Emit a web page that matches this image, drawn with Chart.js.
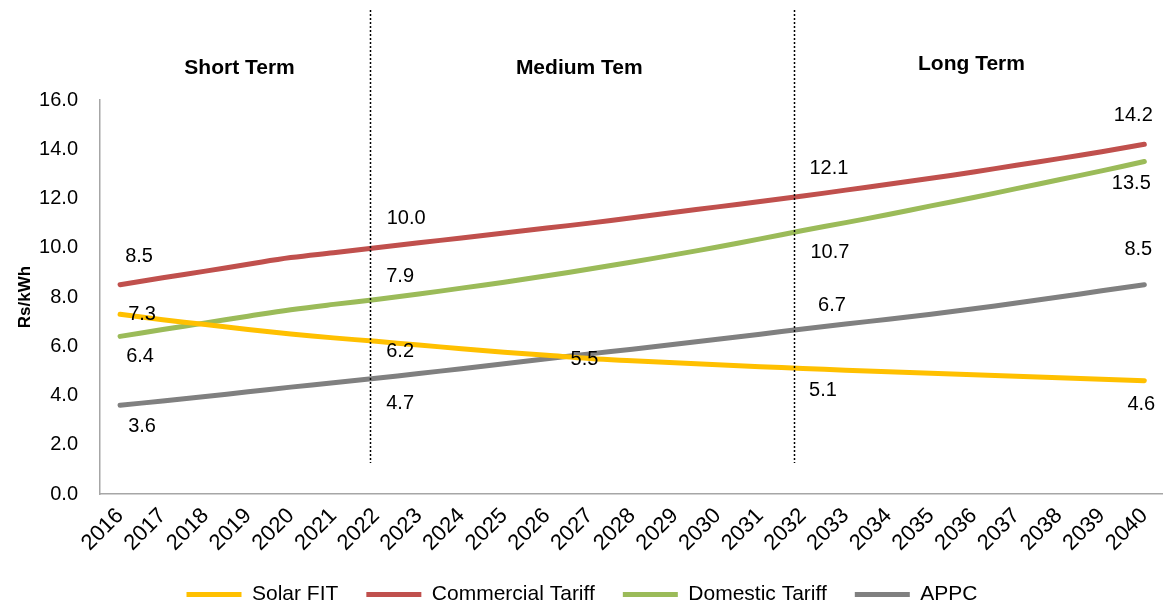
<!DOCTYPE html>
<html>
<head>
<meta charset="utf-8">
<title>Tariff outlook</title>
<script src="https://cdn.jsdelivr.net/npm/chart.js@4.4.1/dist/chart.umd.min.js"></script>
<style>
  html, body { margin: 0; padding: 0; background: #ffffff; }
  #wrap { width: 1164px; height: 607px; }
</style>
</head>
<body>
<div id="wrap"><canvas id="tariffs" width="1164" height="607"></canvas></div>
<script>
// Years on the horizontal axis
const years = [2016, 2017, 2018, 2019, 2020, 2021, 2022, 2023, 2024, 2025, 2026, 2027, 2028,
               2029, 2030, 2031, 2032, 2033, 2034, 2035, 2036, 2037, 2038, 2039, 2040];

// Rs/kWh by year
const solarFit = [7.3, 7.08, 6.88, 6.68, 6.5, 6.34, 6.2, 6.05, 5.9, 5.76, 5.63, 5.5, 5.41,
                  5.33, 5.25, 5.17, 5.1, 5.03, 4.96, 4.9, 4.84, 4.78, 4.72, 4.66, 4.6];
const commercialTariff = [8.5, 8.78, 9.05, 9.33, 9.6, 9.8, 10.0, 10.2, 10.4, 10.6, 10.8, 11.0, 11.22,
                          11.44, 11.66, 11.88, 12.1, 12.34, 12.58, 12.82, 13.08, 13.35, 13.62, 13.9, 14.2];
const domesticTariff = [6.4, 6.68, 6.95, 7.22, 7.48, 7.7, 7.9, 8.12, 8.36, 8.6, 8.86, 9.14, 9.42,
                        9.72, 10.03, 10.36, 10.7, 11.02, 11.35, 11.7, 12.04, 12.4, 12.76, 13.12, 13.5];
const appc = [3.6, 3.78, 3.96, 4.15, 4.34, 4.52, 4.7, 4.89, 5.09, 5.29, 5.49, 5.69, 5.88,
              6.08, 6.28, 6.49, 6.7, 6.9, 7.1, 7.3, 7.52, 7.76, 8.0, 8.25, 8.5];

// Y-axis ticks
const yTicks = [0, 2, 4, 6, 8, 10, 12, 14, 16];

// Period headings and the boundaries between them (in years)
const periodNames = ['Short Term', 'Medium Tem', 'Long Term'];
const periodCentres = [2018.8, 2026.76, 2035.95];
const periodBreaks = [2021.85, 2031.79];

// Years whose values are printed next to the lines
const labelledYears = [2016, 2022, 2027, 2032, 2040];

const FONT = "'Liberation Sans', Arial, Helvetica, sans-serif";

const series = [
  { name: 'Solar FIT',          values: solarFit,         color: '#FFC000' },
  { name: 'Commercial Tariff',  values: commercialTariff, color: '#C0504D' },
  { name: 'Domestic Tariff',    values: domesticTariff,   color: '#9BBB59' },
  { name: 'APPC',               values: appc,             color: '#808080' }
];

// Where each value label sits relative to its point (px): [series index][year] -> [dx, dy]
const labelOffsets = {
  0: { 2016: [22, 0],   2022: [24, 10],  2027: [-5, 1], 2032: [20, 22],  2040: [-3, 24] },
  1: { 2016: [19, -28], 2022: [30, -29],                 2032: [26, -28], 2040: [-11, -29] },
  2: { 2016: [20, 20],  2022: [24, -23],                 2032: [27, 22],  2040: [-13, 22] },
  3: { 2016: [22, 21],  2022: [24, 25],                  2032: [29, -24], 2040: [-6, -35] }
};

const overlayPlugin = {
  id: 'overlay',
  afterDatasetsDraw(chart) {
    const ctx = chart.ctx;
    const xs = chart.scales.x;
    const ys = chart.scales.y;

    // dotted period boundaries
    ctx.save();
    ctx.strokeStyle = '#000000';
    ctx.lineWidth = 1.5;
    ctx.setLineDash([2, 2]);
    periodBreaks.forEach(b => {
      const x = Math.round(xs.getPixelForValue(b)) + 0.5;
      ctx.beginPath();
      ctx.moveTo(x, 10);
      ctx.lineTo(x, ys.getPixelForValue(1.26));
      ctx.stroke();
    });
    ctx.restore();

    // period headings
    ctx.save();
    ctx.fillStyle = '#000000';
    ctx.font = 'bold 21px ' + FONT;
    ctx.textAlign = 'center';
    ctx.textBaseline = 'middle';
    periodNames.forEach((name, i) => {
      const dy = i === 2 ? -36 : -32;
      ctx.fillText(name, xs.getPixelForValue(periodCentres[i]), chart.chartArea.top + dy);
    });
    ctx.restore();

    // value labels
    ctx.save();
    ctx.fillStyle = '#000000';
    ctx.font = '20px ' + FONT;
    ctx.textAlign = 'center';
    ctx.textBaseline = 'middle';
    series.forEach((s, si) => {
      const meta = chart.getDatasetMeta(si);
      labelledYears.forEach(yr => {
        const off = labelOffsets[si][yr];
        if (!off) return;
        const idx = years.indexOf(yr);
        const pt = meta.data[idx];
        ctx.fillText(s.values[idx].toFixed(1), pt.x + off[0], pt.y + off[1]);
      });
    });
    ctx.restore();
  }
};

new Chart(document.getElementById('tariffs'), {
  type: 'line',
  data: {
    datasets: series.map(s => ({
      label: s.name,
      data: years.map((y, i) => ({ x: y, y: s.values[i] })),
      borderColor: s.color,
      backgroundColor: s.color,
      borderWidth: 5,
      borderCapStyle: 'round',
      borderJoinStyle: 'round',
      tension: 0.4,
      pointRadius: 0,
      pointHoverRadius: 0,
      fill: false
    }))
  },
  options: {
    responsive: false,
    animation: false,
    devicePixelRatio: 1,
    layout: { padding: { top: 100, right: 0, bottom: -8, left: 0 } },
    plugins: {
      tooltip: { enabled: false },
      legend: {
        position: 'bottom',
        labels: {
          color: '#000000',
          font: { family: FONT, size: 21 },
          boxWidth: 55,
          boxHeight: 5,
          padding: 28,
          generateLabels(chart) {
            return chart.data.datasets.map((d, i) => ({
              text: d.label,
              fillStyle: d.borderColor,
              strokeStyle: d.borderColor,
              lineWidth: 0,
              hidden: false,
              datasetIndex: i,
              fontColor: '#000000'
            }));
          }
        }
      }
    },
    scales: {
      x: {
        type: 'linear',
        min: 2015.53,
        max: 2040.42,
        grid: { display: false },
        border: { display: true, color: '#a6a6a6', width: 1.5 },
        afterBuildTicks(scale) { scale.ticks = years.map(v => ({ value: v })); },
        afterFit(scale) { scale.height = 62; },
        ticks: {
          autoSkip: false,
          minRotation: 45,
          maxRotation: 45,
          padding: 1,
          color: '#000000',
          font: { family: FONT, size: 22 },
          callback: v => String(v)
        }
      },
      y: {
        min: 0,
        max: 16,
        grid: { display: false },
        border: { display: true, color: '#a6a6a6', width: 1.5 },
        afterBuildTicks(scale) { scale.ticks = yTicks.map(v => ({ value: v })); },
        afterFit(scale) { scale.width = 100; },
        ticks: {
          padding: 14,
          color: '#000000',
          font: { family: FONT, size: 20 },
          callback: v => v.toFixed(1)
        },
        title: {
          display: true,
          text: 'Rs/kWh',
          color: '#000000',
          font: { family: FONT, size: 17, weight: 'bold' },
          padding: { top: 15, bottom: 0 }
        }
      }
    }
  },
  plugins: [overlayPlugin]
});
</script>
</body>
</html>
